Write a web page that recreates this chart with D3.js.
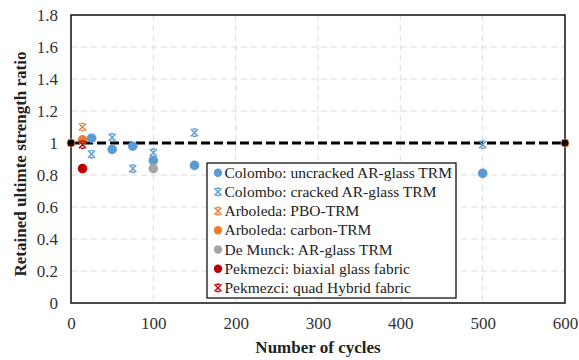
<!DOCTYPE html>
<html>
<head>
<meta charset="utf-8">
<script src="https://cdn.jsdelivr.net/npm/d3@7"></script>
<style>
  html, body { margin: 0; padding: 0; background: #fff; }
  svg { display: block; }
</style>
</head>
<body>
<svg id="chart" width="579" height="360"></svg>
<script>
// Series data: [cycles, retained strength ratio]
const colomboUncracked = [[25, 1.03], [50, 0.96], [75, 0.98], [100, 0.89], [150, 0.86], [500, 0.81]];
const colomboCracked   = [[25, 0.93], [50, 1.035], [75, 0.84], [100, 0.94], [150, 1.065], [500, 0.99]];
const arboledaPBO      = [[14, 1.10]];
const arboledaCarbon   = [[14, 1.02]];
const deMunck          = [[100, 0.84]];
const pekmezciBiaxial  = [[14, 0.84]];
const pekmezciQuad     = [[14, 0.99]];
const referenceLine    = [[0, 1], [600, 1]];

const xTicks = [0, 100, 200, 300, 400, 500, 600];
const yTicks = [0, 0.2, 0.4, 0.6, 0.8, 1, 1.2, 1.4, 1.6, 1.8];

const series = [
  { name: "Colombo: uncracked AR-glass TRM", data: colomboUncracked, color: "#5B9BD5", shape: "circle" },
  { name: "Colombo: cracked AR-glass TRM",   data: colomboCracked,   color: "#5B9BD5", shape: "star" },
  { name: "Arboleda: PBO-TRM",               data: arboledaPBO,      color: "#ED7D31", shape: "star" },
  { name: "Arboleda: carbon-TRM",            data: arboledaCarbon,   color: "#ED7D31", shape: "circle" },
  { name: "De Munck: AR-glass TRM",          data: deMunck,          color: "#A5A5A5", shape: "circle" },
  { name: "Pekmezci: biaxial glass fabric",  data: pekmezciBiaxial,  color: "#C00000", shape: "circle" },
  { name: "Pekmezci: quad Hybrid fabric",    data: pekmezciQuad,     color: "#C00000", shape: "star" }
];

const FONT = "Liberation Serif";
const svg = d3.select("#chart");
const m = { left: 71, top: 15, right: 565, bottom: 303 };

const x = d3.scaleLinear().domain([0, 600]).range([m.left, m.right]);
const y = d3.scaleLinear().domain([0, 1.8]).range([m.bottom, m.top]);

// Grid lines
const grid = svg.append("g");
grid.selectAll("line.h").data(yTicks.filter(t => t > 0)).join("line")
  .attr("x1", m.left).attr("x2", m.right)
  .attr("y1", d => y(d)).attr("y2", d => y(d))
  .attr("stroke", "#dcdcdc").attr("stroke-width", 1).attr("stroke-dasharray", "6,4");
grid.selectAll("line.v").data(xTicks.filter(t => t > 0 && t < 600)).join("line")
  .attr("x1", d => x(d)).attr("x2", d => x(d))
  .attr("y1", m.top).attr("y2", m.bottom)
  .attr("stroke", "#dcdcdc").attr("stroke-width", 1).attr("stroke-dasharray", "6,4");

// Axes (labels only; frame drawn separately)
const xAxis = svg.append("g").attr("transform", `translate(0,${m.bottom})`)
  .call(d3.axisBottom(x).tickValues(xTicks).tickSize(0).tickPadding(14).tickFormat(d3.format("d")));
const yAxis = svg.append("g").attr("transform", `translate(${m.left},0)`)
  .call(d3.axisLeft(y).tickValues(yTicks).tickSize(0).tickPadding(13)
    .tickFormat(d => d === 0 || d === 1 ? d3.format("d")(d) : d3.format(".1f")(d)));
[xAxis, yAxis].forEach(a => {
  a.attr("font-family", FONT).attr("font-size", 17);
  a.select(".domain").remove();
  a.selectAll("text").attr("fill", "#333");
});

// Plot frame
svg.append("rect")
  .attr("x", m.left).attr("y", m.top)
  .attr("width", m.right - m.left).attr("height", m.bottom - m.top)
  .attr("fill", "none").attr("stroke", "#111").attr("stroke-width", 1.5);

// Reference dashed line at ratio = 1
const line = d3.line().x(d => x(d[0])).y(d => y(d[1]));
svg.append("path").datum(referenceLine)
  .attr("d", line).attr("fill", "none")
  .attr("stroke", "#000").attr("stroke-width", 3).attr("stroke-dasharray", "9,4");

// Marker drawing helpers: star = X with short caps top and bottom
function drawStar(g, cx, cy, color) {
  const s = 3.6;
  const p = `M${cx - s},${cy - s}L${cx + s},${cy + s}M${cx - s},${cy + s}L${cx + s},${cy - s}` +
            `M${cx - 1.8},${cy - s}L${cx + 1.8},${cy - s}M${cx - 1.8},${cy + s}L${cx + 1.8},${cy + s}`;
  g.append("path").attr("d", p).attr("stroke", color).attr("stroke-width", 1.4).attr("fill", "none");
}
function drawMarker(g, shape, cx, cy, color) {
  if (shape === "circle") {
    g.append("circle").attr("cx", cx).attr("cy", cy).attr("r", 4.8).attr("fill", color);
  } else {
    drawStar(g, cx, cy, color);
  }
}

// Data points
const pts = svg.append("g");
series.forEach(s => {
  s.data.forEach(d => drawMarker(pts, s.shape, x(d[0]), y(d[1]), s.color));
});

// Reference line end markers
pts.selectAll("circle.ref").data(referenceLine).join("circle")
  .attr("cx", d => x(d[0])).attr("cy", d => y(d[1])).attr("r", 4)
  .attr("fill", "#000").attr("stroke", "#ED7D31").attr("stroke-width", 1);

// Legend
const lg = svg.append("g").attr("font-family", FONT);
lg.append("rect").attr("x", 207).attr("y", 163).attr("width", 249).attr("height", 135)
  .attr("fill", "#fff").attr("stroke", "#111").attr("stroke-width", 1.3);
series.forEach((s, i) => {
  const cy = 172.7 + i * 19.2;
  if (s.shape === "circle") {
    lg.append("circle").attr("cx", 218).attr("cy", cy).attr("r", 4.2).attr("fill", s.color);
  } else {
    drawStar(lg, 218, cy, s.color);
  }
  lg.append("text").attr("x", 224.5).attr("y", cy + 5)
    .attr("font-size", 15.5).attr("fill", "#222").text(s.name);
});

// Axis titles
svg.append("text").attr("x", 318).attr("y", 353).attr("text-anchor", "middle")
  .attr("font-family", FONT).attr("font-size", 17).attr("font-weight", "bold")
  .attr("fill", "#222").text("Number of cycles");
svg.append("text").attr("transform", "translate(26,164) rotate(-90)").attr("text-anchor", "middle")
  .attr("font-family", FONT).attr("font-size", 17).attr("font-weight", "bold")
  .attr("fill", "#222").text("Retained ultimte strength ratio");
</script>
</body>
</html>
